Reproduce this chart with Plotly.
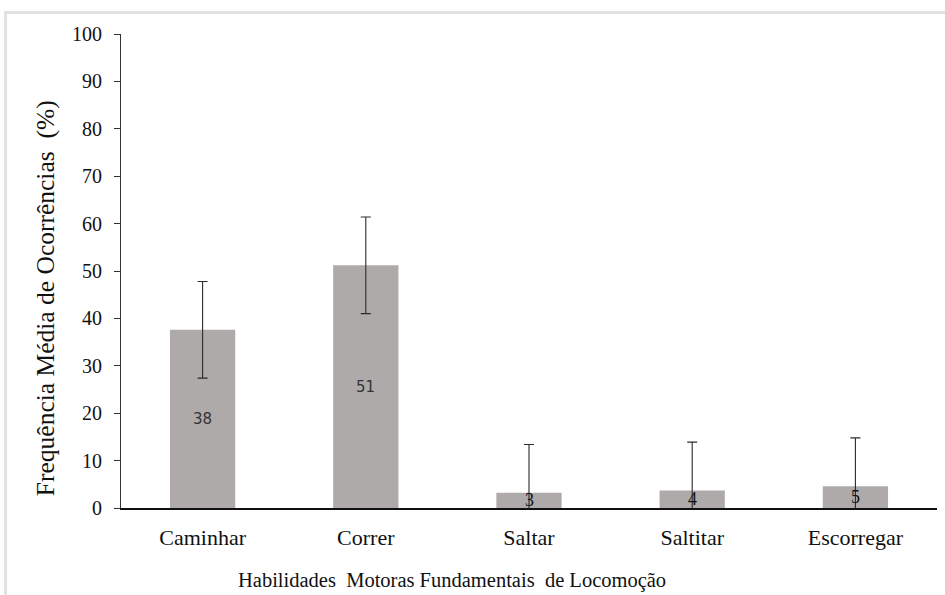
import plotly.graph_objects as go

# Mean frequency of occurrence (%) per fundamental locomotor skill
categories = ["Caminhar", "Correr", "Saltar", "Saltitar", "Escorregar"]
means = [37.6, 51.2, 3.2, 3.7, 4.6]
errors = [10.2, 10.2, 10.2, 10.2, 10.2]
y_ticks = [0, 10, 20, 30, 40, 50, 60, 70, 80, 90, 100]

x_title = "Habilidades  Motoras Fundamentais  de Locomoção"
y_title = "Frequência Média de Ocorrências  (%)"

BAR = "#aeaaa9"
SERIF = "Liberation Serif"

fig = go.Figure()
fig.add_trace(go.Bar(
    x=categories,
    y=means,
    width=0.4,
    marker=dict(color=BAR, line=dict(width=0)),
    error_y=dict(type="data", array=errors, symmetric=True,
                 color="#2b2b2b", thickness=1.1, width=5),
    hoverinfo="skip",
))

# value labels centred inside each bar
for cat, v in zip(categories, means):
    big = v >= 10
    fig.add_annotation(
        x=cat, y=v / 2, text=f"{round(v)}", showarrow=False,
        xanchor="center", yanchor="middle",
        font=dict(family="DejaVu Sans" if big else SERIF,
                  size=15 if big else 18,
                  color="#333333" if big else "#111111"),
    )

# axis titles
fig.add_annotation(
    xref="paper", yref="paper", x=0.4056, y=-0.154, text=x_title,
    showarrow=False, xanchor="center", yanchor="middle",
    font=dict(family=SERIF, size=20.5, color="#111111"),
)
fig.add_annotation(
    xref="paper", yref="paper", x=-0.093, y=0.443, text=y_title,
    showarrow=False, xanchor="center", yanchor="middle", textangle=-90,
    font=dict(family=SERIF, size=25.5, color="#111111"),
)

# light frame along the top and left edges of the chart area
fig.add_shape(
    type="path", xref="paper", yref="paper",
    path="M -0.1415,-0.3 L -0.1415,1.0454 L 1.2,1.0454",
    line=dict(color="#e2e2e2", width=3),
)

fig.update_layout(
    width=945, height=595,
    margin=dict(l=121, r=8, t=34, b=87),
    paper_bgcolor="white", plot_bgcolor="white",
    showlegend=False,
    bargap=0.6,
    font=dict(family=SERIF, color="#111111"),
)
fig.update_xaxes(
    showline=True, linecolor="#111111", linewidth=2,
    ticks="", tickfont=dict(family=SERIF, size=22, color="#111111"),
    ticklabelstandoff=9, showgrid=False, zeroline=False,
)
fig.update_yaxes(
    range=[0, 100], tickvals=y_ticks, showline=True,
    linecolor="#333333", linewidth=1, ticks="outside", ticklen=6,
    tickcolor="#333333", tickfont=dict(family=SERIF, size=20, color="#111111"),
    ticklabelstandoff=8, showgrid=False, zeroline=False,
)

fig.write_html("out.html")
